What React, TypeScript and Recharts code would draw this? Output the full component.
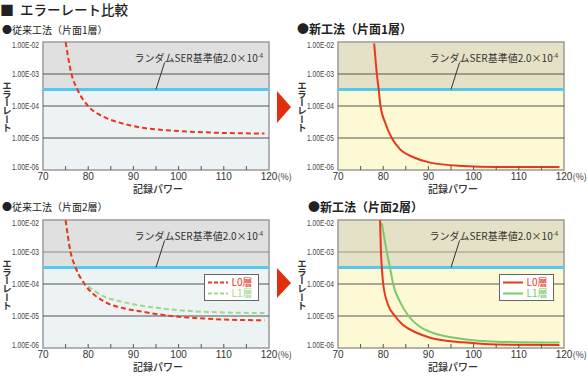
import React from 'react';
import { LineChart, Line, XAxis, YAxis, ReferenceArea, ReferenceLine, Legend } from 'recharts';

const X_TICKS = [70, 75, 80, 85, 90, 95, 100, 105, 110, 115, 120];
const Y_TICKS = [1e-6, 1e-5, 1e-4, 1e-3, 1e-2];
const Y_LABELS = ['1.00E-06', '1.00E-05', '1.00E-04', '1.00E-03', '1.00E-02'];
const SER_LIMIT = 3.3e-4;
const LEADER_X = [96.9, 95];
const LEADER_Y = [2.3e-3, SER_LIMIT];

// 従来工法（片面1層）
const conv1X = [75, 76.3, 77.6, 80, 83.7, 87.4, 91, 98.5, 106, 119];
const conv1L0 = [1e-2, 1e-3, 3.3e-4, 1e-4, 4.4e-5, 2.9e-5, 2.2e-5, 1.7e-5, 1.5e-5, 1.38e-5];

// 新工法（片面1層）
const new1X = [78, 78.6, 79, 79.4, 80.4, 81.9, 83.7, 86.7, 90.4, 97.7, 105, 119];
const new1L0 = [9e-3, 1e-3, 3.3e-4, 1e-4, 3.1e-5, 1e-5, 4.5e-6, 2.5e-6, 1.7e-6, 1.33e-6, 1.23e-6, 1.23e-6];

// 従来工法（片面2層）
const conv2L0X = [75, 76.1, 77.2, 79.2, 83.6, 87.4, 91, 98.4, 105.8, 119];
const conv2L0 = [1e-2, 1e-3, 3.3e-4, 1e-4, 2.8e-5, 1.8e-5, 1.44e-5, 1e-5, 8.3e-6, 7.3e-6];
const conv2L1X = [75, 76.1, 77.2, 79.2, 80, 83.6, 87.4, 91, 98.4, 105.8, 119];
const conv2L1 = [1e-2, 1e-3, 3.3e-4, 1e-4, 8.3e-5, 4e-5, 2.8e-5, 2.2e-5, 1.6e-5, 1.35e-5, 1.23e-5];

// 新工法（片面2層）
const new2L0X = [79.3, 79.5, 79.7, 80, 81.1, 82.6, 84.4, 87.4, 90.4, 97.7, 105, 119];
const new2L0 = [1e-2, 1e-3, 3.3e-4, 1e-4, 2.2e-5, 1e-5, 5.2e-6, 3e-6, 2.1e-6, 1.5e-6, 1.28e-6, 1.23e-6];
const new2L1X = [79.7, 80.8, 81.5, 82.2, 83.7, 85.6, 88.1, 90.4, 97.7, 105, 119];
const new2L1 = [8e-3, 1e-3, 3.3e-4, 1e-4, 2.8e-5, 1e-5, 4.6e-6, 3.2e-6, 1.9e-6, 1.58e-6, 1.48e-6];

const RED = '#e8381c';
const GREEN_DASH = '#9fd78c';
const GREEN = '#7cc96c';
const CYAN = '#55c8ee';
const JP = "'Noto Sans CJK JP', 'Noto Sans', sans-serif";
const NUM = "'Liberation Sans', Arial, sans-serif";

const toPoints = (xs: number[], ys: number[]) => xs.map((x, i) => ({ x, y: ys[i] }));

type Series = { name: string; xs: number[]; ys: number[]; color: string; dashed: boolean };

const XTick = (props: any) => {
  const { x, y, payload } = props;
  const v = payload.value;
  return (
    <g>
      {v !== 70 && v !== 120 && <line x1={x} x2={x} y1={y} y2={y - 4} stroke="#555" />}
      {v % 10 === 0 && (
        <text x={x} y={y + 10} textAnchor="middle" fontSize={10} fontFamily={NUM} fill="#333">
          {v}
        </text>
      )}
      {v === 120 && (
        <text x={x + 8.5} y={y + 10} fontSize={9} fontFamily={JP} fill="#333">
          (%)
        </text>
      )}
    </g>
  );
};

const YTick = (props: any) => {
  const { x, y, payload } = props;
  const i = Y_TICKS.indexOf(payload.value);
  const dy = i === Y_TICKS.length - 1 ? 6 : i === 0 ? 0 : 3;
  return (
    <text x={x - 4} y={y + dy} textAnchor="end" fontSize={9} fontFamily={NUM} fill="#444" textLength={27} lengthAdjust="spacingAndGlyphs">
      {Y_LABELS[i]}
    </text>
  );
};

type PanelProps = {
  left: number;
  top: number;
  width: number;
  upper: string;
  lower: string;
  grid3: string;
  series: Series[];
  legend?: boolean;
};

function Panel({ left, top, width, upper, lower, grid3, series, legend }: PanelProps) {
  // L1 first so the L0 curve stays on top where they overlap
  const drawOrder = [...series].reverse();
  return (
    <div style={{ position: 'absolute', left, top }}>
      <LineChart width={width} height={190} margin={{ top: 42, right: width - 43 - 226, bottom: 0, left: 0 }}>
        <XAxis
          type="number"
          dataKey="x"
          domain={[70, 120]}
          ticks={X_TICKS}
          interval={0}
          height={20}
          tickSize={0}
          tickMargin={0}
          axisLine={false}
          tickLine={false}
          tick={<XTick />}
          allowDataOverflow
        />
        <YAxis
          type="number"
          scale="log"
          domain={[1e-6, 1e-2]}
          ticks={Y_TICKS}
          interval={0}
          width={43}
          tickSize={0}
          tickMargin={0}
          axisLine={false}
          tickLine={false}
          tick={<YTick />}
          allowDataOverflow
        />
        <ReferenceArea x1={70} x2={120} y1={SER_LIMIT} y2={1e-2} fill={upper} fillOpacity={1} stroke="none" />
        <ReferenceArea x1={70} x2={120} y1={1e-6} y2={SER_LIMIT} fill={lower} fillOpacity={1} stroke="none" />
        {Y_TICKS.slice(1, 4).map((t) => (
          <ReferenceLine key={t} y={t} stroke={t === 1e-3 ? grid3 : '#555'} strokeWidth={1} />
        ))}
        <ReferenceArea x1={70} x2={120} y1={1e-6} y2={1e-2} fill="none" stroke="#9a9a9a" strokeWidth={1.5} />
        <ReferenceLine y={SER_LIMIT} stroke={CYAN} strokeWidth={3} />
        <ReferenceLine
          segment={[
            { x: LEADER_X[0], y: LEADER_Y[0] },
            { x: LEADER_X[1], y: LEADER_Y[1] },
          ]}
          stroke="#333"
          strokeWidth={1}
        />
        {drawOrder.map((s) => (
          <Line
            key={s.name}
            data={toPoints(s.xs, s.ys)}
            dataKey="y"
            name={s.name}
            type="monotone"
            stroke={s.color}
            strokeWidth={2}
            strokeDasharray={s.dashed ? '5 3' : undefined}
            dot={false}
            activeDot={false}
            isAnimationActive={false}
          />
        ))}
        {legend && (
          <Legend
            layout="vertical"
            align="center"
            verticalAlign="middle"
            wrapperStyle={{ position: 'absolute', left: 204, top: 96, width: 56, height: 28 }}
            content={() => (
              <svg width={56} height={28}>
                <rect x={0.5} y={0.5} width={54} height={26} fill="#fff" stroke="#666" />
                {series.map((s, i) => (
                  <g key={s.name}>
                    <line
                      x1={4}
                      x2={24}
                      y1={8.5 + i * 11}
                      y2={8.5 + i * 11}
                      stroke={s.color}
                      strokeWidth={2}
                      strokeDasharray={s.dashed ? '4 2' : undefined}
                    />
                    <text x={27.5} y={12} fontSize={10} fontFamily={JP} fill={s.color} dy={i * 11}>
                      {s.name}
                    </text>
                  </g>
                ))}
              </svg>
            )}
          />
        )}
      </LineChart>
    </div>
  );
}

const Annotation = ({ px, py }: { px: number; py: number }) => (
  <text x={px + 91.5} y={py + 19.5} fontSize={10} fontFamily={JP} fill="#333">
    ランダムSER基準値2.0×10
    <tspan fontSize={6} dy={-4}>
      -4
    </tspan>
  </text>
);

const AxisTitles = ({ px, py }: { px: number; py: number }) => (
  <g>
    <text
      x={px - 36}
      y={py + 39}
      fontSize={9.5}
      fontFamily={JP}
      fontWeight={700}
      fill="#333"
      letterSpacing={-1.2}
      style={{ writingMode: 'vertical-rl' }}
    >
      エラーレート
    </text>
    <text x={px + 115} y={py + 151} textAnchor="middle" fontSize={10} fontFamily={JP} fontWeight={500} fill="#333">
      記録パワー
    </text>
  </g>
);

export default function App() {
  const conv1: Series[] = [{ name: 'L0層', xs: conv1X, ys: conv1L0, color: RED, dashed: true }];
  const new1: Series[] = [{ name: 'L0層', xs: new1X, ys: new1L0, color: RED, dashed: false }];
  const conv2: Series[] = [
    { name: 'L0層', xs: conv2L0X, ys: conv2L0, color: RED, dashed: true },
    { name: 'L1層', xs: conv2L1X, ys: conv2L1, color: GREEN_DASH, dashed: true },
  ];
  const new2: Series[] = [
    { name: 'L0層', xs: new2L0X, ys: new2L0, color: RED, dashed: false },
    { name: 'L1層', xs: new2L1X, ys: new2L1, color: GREEN, dashed: false },
  ];

  return (
    <div style={{ position: 'absolute', left: 0, top: 0, width: 588, height: 376, background: '#fff', overflow: 'hidden' }}>
      <Panel left={0} top={0} width={300} upper="#e0e0e0" lower="#edf2f5" grid3="#555" series={conv1} />
      <Panel left={295} top={0} width={293} upper="#e5e1c6" lower="#fdf9d5" grid3="#555" series={new1} />
      <Panel left={0} top={178} width={300} upper="#e0e0e0" lower="#edf2f5" grid3="#8d8d8d" series={conv2} legend />
      <Panel left={295} top={178} width={293} upper="#e5e1c6" lower="#fdf9d5" grid3="#9a9480" series={new2} legend />
      <svg width={588} height={376} style={{ position: 'absolute', left: 0, top: 0, pointerEvents: 'none' }}>
        <text x={0} y={14.5} fontSize={14} fontFamily={JP} fill="#222">
          ■
        </text>
        <text x={20} y={14.5} fontSize={13.5} fontFamily={JP} fontWeight={500} fill="#222">
          エラーレート比較
        </text>
        <text x={2} y={34} fontSize={10} fontFamily={JP} fill="#222">
          ●従来工法（片面1層）
        </text>
        <text x={297} y={34} fontSize={12} fontFamily={JP} fontWeight={700} fill="#222">
          ●新工法（片面1層）
        </text>
        <text x={2} y={211} fontSize={10} fontFamily={JP} fill="#222">
          ●従来工法（片面2層）
        </text>
        <text x={308} y={212} fontSize={12} fontFamily={JP} fontWeight={700} fill="#222">
          ●新工法（片面2層）
        </text>
        <Annotation px={43} py={42} />
        <Annotation px={338} py={42} />
        <Annotation px={43} py={220} />
        <Annotation px={338} py={220} />
        <AxisTitles px={43} py={42} />
        <AxisTitles px={338} py={42} />
        <AxisTitles px={43} py={220} />
        <AxisTitles px={338} py={220} />
        <polygon points="277,91 277,123 291,107" fill="#e0300f" />
        <polygon points="277,268 277,298 291,283" fill="#e0300f" />
      </svg>
    </div>
  );
}
